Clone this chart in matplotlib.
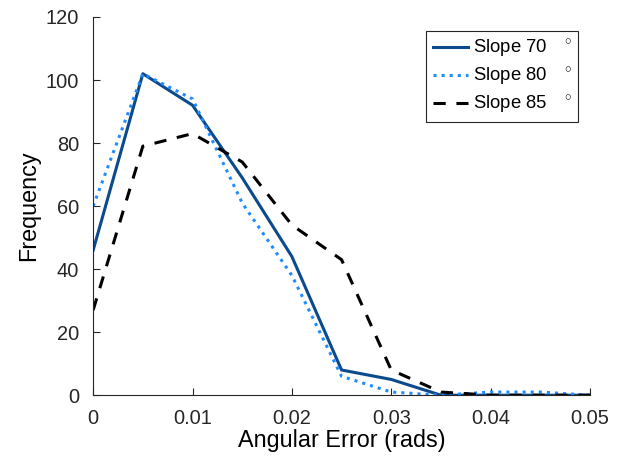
import numpy as np
import matplotlib
matplotlib.use("Agg")
import matplotlib.pyplot as plt

# Data
error_bins = [0, 0.005, 0.01, 0.015, 0.02, 0.025, 0.03, 0.035, 0.04, 0.045, 0.05]
slope_70 = [46, 102, 92, 69, 44, 8, 5, 0, 0, 0, 0]
slope_80 = [60, 102, 94, 61, 38, 6, 1, 0, 1, 1, 0]
slope_85 = [27, 79, 83, 74, 54, 43, 8, 1, 0, 0, 0]
labels = ["Slope 70   $^\\circ$", "Slope 80   $^\\circ$", "Slope 85   $^\\circ$"]

plt.rcParams['font.family'] = ['Liberation Sans', 'DejaVu Sans']
plt.rcParams['mathtext.fontset'] = 'custom'
plt.rcParams['mathtext.rm'] = 'Liberation Sans'

fig = plt.figure(figsize=(6.21, 4.59), dpi=100)
ax = fig.add_axes([0.150, 0.139, 0.800, 0.824])

ax.plot(error_bins, slope_70, color='#0b4a8c', linewidth=2.2, linestyle='-', label=labels[0])
ax.plot(error_bins, slope_80, color='#1f8bff', linewidth=2.2, linestyle=':', label=labels[1])
ax.plot(error_bins, slope_85, color='black', linewidth=2.2, linestyle=(0, (4, 3.5)), label=labels[2])

ax.set_xlim(0, 0.05)
ax.set_ylim(0, 120)
ax.set_xticks([0, 0.01, 0.02, 0.03, 0.04, 0.05])
ax.set_xticklabels(['0', '0.01', '0.02', '0.03', '0.04', '0.05'])
ax.set_yticks(range(0, 121, 20))

for side in ['top', 'right']:
    ax.spines[side].set_visible(False)
for side in ['left', 'bottom']:
    ax.spines[side].set_color('#262626')
    ax.spines[side].set_linewidth(0.8)
ax.tick_params(direction='in', length=5, width=0.8, colors='#262626', labelsize=14.4)
ax.tick_params(axis='x', pad=10)
ax.tick_params(axis='y', pad=10)

ax.set_xlabel('Angular Error (rads)', fontsize=16.8, labelpad=1)
ax.set_ylabel('Frequency', fontsize=16.8, labelpad=4)

leg = ax.legend(loc='upper right', bbox_to_anchor=(0.976, 0.962), fontsize=13.3,
                fancybox=False, framealpha=1, edgecolor='#262626',
                handlelength=1.9, handletextpad=0.25, borderpad=0.35, labelspacing=0.3,
                borderaxespad=0)
leg.get_frame().set_linewidth(0.8)

plt.savefig('out.png', dpi=100)
plt.close()
